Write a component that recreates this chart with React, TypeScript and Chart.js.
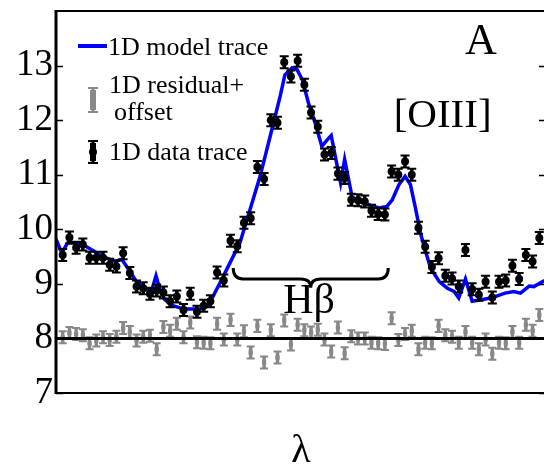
import React, { useEffect, useRef } from 'react';
import { Chart, registerables } from 'chart.js';

Chart.register(...registerables);

// sample index along the dispersion axis
const sampleIndex = Array.from({ length: 72 }, (_, i) => i + 1);

const dataTrace = [
  9.53, 9.85, 9.66, 9.72, 9.48, 9.48, 9.48, 9.35, 9.32, 9.56,
  9.2, 8.95, 8.92, 8.82, 8.88, 8.84, 8.68, 8.77, 8.52, 8.82,
  8.49, 8.6, 8.68, 9.21, 9.06, 9.79, 9.69, 10.12, 10.2, 11.14,
  10.92, 12.0, 11.95, 13.06, 12.8, 13.09, 12.65, 12.14, 11.88, 11.37,
  11.4, 11.02, 10.94, 10.54, 10.53, 10.51, 10.34, 10.28, 10.27, 11.06,
  11.0, 11.24, 11.0, 10.03, 9.68, 9.31, 9.47, 9.15, 9.1, 8.95,
  9.62, 8.9, 8.8, 9.04, 8.75, 9.04, 9.06, 9.33, 9.09, 9.53,
  9.41, 9.84,
];

const residualPlusOffset = [
  8.02, 8.1, 8.08, 8.06, 7.91, 7.96, 8.02, 7.97, 8.03, 8.19,
  8.12, 7.96, 8.03, 8.05, 7.8, 8.21, 8.14, 8.27, 8.02, 8.29,
  7.93, 7.92, 7.91, 8.27, 7.98, 8.34, 7.98, 8.13, 7.74, 8.23,
  7.56, 8.15, 7.65, 8.33, 7.89, 8.25, 8.15, 8.11, 8.16, 7.98,
  7.76, 8.2, 7.73, 8.04, 8.0, 8.0, 7.92, 7.91, 7.9, 8.37,
  7.97, 8.08, 8.14, 7.8, 7.92, 7.91, 8.23, 8.06, 8.03, 7.92,
  8.12, 7.92, 7.8, 7.98, 7.72, 7.92, 7.91, 8.12, 7.92, 8.25,
  8.14, 8.43,
];

const modelX = [
  0, 0.85, 1.8, 2.8, 4.0, 5.5, 7.0, 8.8, 9.8, 11.0,
  12.0, 13.5, 14.25, 14.9, 15.5, 16.2, 17.4, 18.5, 19.5, 21.5,
  22.5, 23.4, 24.4, 25.9, 27.4, 28.9, 30.4, 31.9, 33.4, 34.1,
  35.2, 35.9, 36.7, 37.6, 38.6, 39.6, 40.4, 41.0, 41.6, 42.4,
  43.0, 43.6, 44.1, 45.1, 46.6, 48.1, 49.3, 50.1, 51.1, 52.0,
  52.8, 53.5, 54.3, 55.0, 55.8, 57.1, 58.3, 59.3, 60.0, 61.0,
  62.0, 64.8, 66.9, 68.2, 69.2, 70.5, 71.2, 72.5, 73.0,
];
const modelY = [
  9.82, 9.57, 9.76, 9.75, 9.72, 9.61, 9.5, 9.41, 9.45, 9.23,
  9.04, 8.89, 8.88, 9.15, 8.89, 8.71, 8.6, 8.56, 8.54, 8.54,
  8.6, 8.77, 9.01, 9.38, 9.75, 10.36, 10.97, 11.7, 12.44, 12.83,
  12.96, 12.93, 12.74, 12.32, 11.95, 11.52, 11.64, 11.72, 11.34, 10.85,
  11.28, 10.91, 10.6, 10.51, 10.45, 10.39, 10.42, 10.54, 10.82, 10.97,
  10.82, 10.42, 9.93, 9.62, 9.29, 9.04, 8.92, 8.86, 8.74, 9.09,
  8.68, 8.74, 8.83, 8.86, 8.83, 8.96, 8.95, 9.04, 9.07,
];

const yTicks = [7, 8, 9, 10, 11, 12, 13];
const yMin = 7;
const yMax = 14;
const xMin = 0;
const xMax = 73;
const residualOffset = 8;
const dataError = 0.11;
const residualError = 0.11;

const legendLabels = ['1D model trace', '1D residual+', 'offset', '1D data trace'];
const xTitle = 'λ';
const panelLabel = 'A';
const oiiiLabel = '[OIII]';
const hbetaLabel = 'Hβ';
// brace under the Hβ region, in data units
const braceX = [26.4, 49.5];
const braceY = [9.29, 9.09, 8.93];
const hbetaPos = [37.7, 8.47];
const oiiiPos = [57.6, 11.88];
const panelPos = [63.3, 13.22];

const SERIF = '"Liberation Serif", "Times New Roman", serif';
const BLUE = '#0000ff';
const GRAY = '#888888';

const errorBarPlugin = {
  id: 'errorBars',
  beforeDatasetDraw(chart: any, args: any) {
    const ds = chart.data.datasets[args.index];
    if (!ds.errorBar) return;
    const { ctx, chartArea } = chart;
    const xs = chart.scales.x;
    const ys = chart.scales.y;
    ctx.save();
    ctx.beginPath();
    ctx.rect(chartArea.left, chartArea.top, chartArea.right - chartArea.left, chartArea.bottom - chartArea.top);
    ctx.clip();
    ctx.strokeStyle = ds.errorBar.color;
    ctx.lineWidth = ds.errorBar.width;
    const cw = ds.errorBar.cap;
    ctx.beginPath();
    for (const p of ds.data) {
      const px = xs.getPixelForValue(p.x);
      const t = ys.getPixelForValue(p.y + ds.errorBar.err);
      const b = ys.getPixelForValue(p.y - ds.errorBar.err);
      ctx.moveTo(px, t);
      ctx.lineTo(px, b);
    }
    ctx.stroke();
    ctx.lineWidth = 2;
    ctx.beginPath();
    for (const p of ds.data) {
      const px = xs.getPixelForValue(p.x);
      const t = ys.getPixelForValue(p.y + ds.errorBar.err);
      const b = ys.getPixelForValue(p.y - ds.errorBar.err);
      ctx.moveTo(px - cw, t);
      ctx.lineTo(px + cw, t);
      ctx.moveTo(px - cw, b);
      ctx.lineTo(px + cw, b);
    }
    ctx.stroke();
    ctx.restore();
  },
};

const decorPlugin = {
  id: 'decor',
  afterDraw(chart: any) {
    const { ctx, chartArea } = chart;
    const xs = chart.scales.x;
    const ys = chart.scales.y;
    const L = chartArea.left;
    const R = chartArea.right;
    const T = chartArea.top;
    const B = chartArea.bottom;
    ctx.save();
    ctx.strokeStyle = '#000';
    ctx.lineCap = 'butt';
    // frame
    ctx.lineWidth = 2;
    ctx.beginPath();
    ctx.moveTo(L, T);
    ctx.lineTo(R, T);
    ctx.moveTo(L, B);
    ctx.lineTo(R, B);
    ctx.moveTo(R, T);
    ctx.lineTo(R, B);
    ctx.stroke();
    ctx.lineWidth = 3;
    ctx.beginPath();
    ctx.moveTo(L, T - 1);
    ctx.lineTo(L, B + 1);
    ctx.stroke();
    // inward ticks
    ctx.lineWidth = 1.5;
    ctx.beginPath();
    for (const v of yTicks) {
      const py = Math.round(ys.getPixelForValue(v)) + 0.5;
      ctx.moveTo(L, py);
      ctx.lineTo(L + 7, py);
      ctx.moveTo(R, py);
      ctx.lineTo(R - 7, py);
    }
    ctx.stroke();

    // brace
    const xl = xs.getPixelForValue(braceX[0]);
    const xr = xs.getPixelForValue(braceX[1]);
    const xm = (xl + xr) / 2;
    const yTop = ys.getPixelForValue(braceY[0]);
    const yMid = ys.getPixelForValue(braceY[1]);
    const yTip = ys.getPixelForValue(braceY[2]);
    const r = 10;
    ctx.lineWidth = 3;
    ctx.beginPath();
    ctx.moveTo(xl, yTop);
    ctx.quadraticCurveTo(xl, yMid, xl + r, yMid);
    ctx.lineTo(xm - r, yMid);
    ctx.quadraticCurveTo(xm, yMid, xm, yTip);
    ctx.quadraticCurveTo(xm, yMid, xm + r, yMid);
    ctx.lineTo(xr - r, yMid);
    ctx.quadraticCurveTo(xr, yMid, xr, yTop);
    ctx.stroke();

    // texts
    ctx.fillStyle = '#000';
    ctx.textBaseline = 'alphabetic';
    ctx.textAlign = 'center';
    ctx.font = `42px ${SERIF}`;
    ctx.fillText(hbetaLabel, xs.getPixelForValue(hbetaPos[0]), ys.getPixelForValue(hbetaPos[1]));
    ctx.font = `41px ${SERIF}`;
    ctx.fillText(oiiiLabel, xs.getPixelForValue(oiiiPos[0]), ys.getPixelForValue(oiiiPos[1]));
    ctx.font = `44px ${SERIF}`;
    ctx.fillText(panelLabel, xs.getPixelForValue(panelPos[0]), ys.getPixelForValue(panelPos[1]));
    ctx.font = `40px ${SERIF}`;
    ctx.fillText(xTitle, (L + R) / 2, 462);

    // legend
    ctx.textAlign = 'left';
    ctx.font = `26px ${SERIF}`;
    // model line
    ctx.strokeStyle = BLUE;
    ctx.lineWidth = 4;
    ctx.beginPath();
    ctx.moveTo(L + 22, T + 35);
    ctx.lineTo(L + 51, T + 35);
    ctx.stroke();
    ctx.fillText(legendLabels[0], L + 52, T + 44);
    const sym = (cx: number, y0: number, y1: number, color: string, dot: boolean) => {
      ctx.strokeStyle = color;
      ctx.fillStyle = color;
      ctx.lineWidth = 3;
      ctx.beginPath();
      ctx.moveTo(cx, y0);
      ctx.lineTo(cx, y1);
      ctx.stroke();
      ctx.lineWidth = 2;
      ctx.beginPath();
      ctx.moveTo(cx - 5, y0 + 1);
      ctx.lineTo(cx + 5, y0 + 1);
      ctx.moveTo(cx - 5, y1 - 1);
      ctx.lineTo(cx + 5, y1 - 1);
      ctx.stroke();
      ctx.fillRect(cx - 3, y0 + 3, 6, y1 - y0 - 6);
      if (dot) {
        ctx.beginPath();
        ctx.arc(cx, (y0 + y1) / 2, 4, 0, Math.PI * 2);
        ctx.fill();
      }
    };
    sym(L + 37, T + 76, T + 102, GRAY, false);
    ctx.fillStyle = '#000';
    ctx.fillText(legendLabels[1], L + 53, T + 82);
    ctx.fillText(legendLabels[2], L + 58, T + 109);
    sym(L + 37, T + 129, T + 153, '#000', true);
    ctx.fillStyle = '#000';
    ctx.fillText(legendLabels[3], L + 53, T + 149);
    ctx.restore();
  },
};

export default function App() {
  const canvasRef = useRef<HTMLCanvasElement | null>(null);

  useEffect(() => {
    const canvas = canvasRef.current;
    if (!canvas) return;
    const dataPts = sampleIndex.map((x, i) => ({ x, y: dataTrace[i] }));
    const resPts = sampleIndex.map((x, i) => ({ x, y: residualPlusOffset[i] }));
    const modelPts = modelX.map((x, i) => ({ x, y: modelY[i] }));
    const zeroLine = [
      { x: xMin, y: residualOffset },
      { x: xMax, y: residualOffset },
    ];

    const chart = new Chart(canvas, {
      type: 'scatter',
      data: {
        datasets: [
          {
            label: '1D residual+offset',
            data: resPts,
            order: 4,
            pointRadius: 3,
            pointStyle: 'rect',
            backgroundColor: GRAY,
            borderColor: GRAY,
            borderWidth: 0,
            errorBar: { err: residualError, color: GRAY, width: 3.5, cap: 4 },
          } as any,
          {
            label: 'offset',
            data: zeroLine,
            order: 3,
            showLine: true,
            pointRadius: 0,
            borderColor: '#000',
            borderWidth: 3,
          },
          {
            label: '1D model trace',
            data: modelPts,
            order: 2,
            showLine: true,
            pointRadius: 0,
            borderColor: BLUE,
            borderWidth: 3.5,
            tension: 0,
          },
          {
            label: '1D data trace',
            data: dataPts,
            order: 1,
            pointRadius: 4,
            pointStyle: 'circle',
            backgroundColor: '#000',
            borderColor: '#000',
            borderWidth: 0,
            errorBar: { err: dataError, color: '#000', width: 3.5, cap: 4.5 },
          } as any,
        ],
      },
      options: {
        responsive: false,
        animation: false,
        devicePixelRatio: 1,
        layout: { padding: { top: 11, right: 14, left: 0, bottom: 0 } },
        plugins: { legend: { display: false }, tooltip: { enabled: false } },
        scales: {
          x: {
            type: 'linear',
            min: xMin,
            max: xMax,
            grid: { display: false, drawTicks: false },
            border: { display: false },
            ticks: { display: false },
            afterFit: (s: any) => {
              s.height = 74;
              s.paddingLeft = 0;
              s.paddingRight = 0;
            },
          },
          y: {
            type: 'linear',
            min: yMin,
            max: yMax,
            grid: { display: false, drawTicks: false },
            border: { display: false },
            afterBuildTicks: (s: any) => {
              s.ticks = yTicks.map((v) => ({ value: v }));
            },
            ticks: {
              padding: 3,
              color: '#000',
              font: { family: SERIF, size: 37 },
              callback: (v: any) => String(v),
            },
            afterFit: (s: any) => {
              s.width = 56;
              s.paddingTop = 0;
              s.paddingBottom = 0;
            },
          },
        },
      },
      plugins: [errorBarPlugin, decorPlugin],
    });
    return () => chart.destroy();
  }, []);

  return (
    <div
      style={{
        position: 'fixed',
        left: 0,
        top: 0,
        width: 544,
        height: 467,
        overflow: 'hidden',
        background: '#fff',
      }}
    >
      <canvas ref={canvasRef} width={560} height={467} style={{ display: 'block', width: 560, height: 467 }} />
    </div>
  );
}
